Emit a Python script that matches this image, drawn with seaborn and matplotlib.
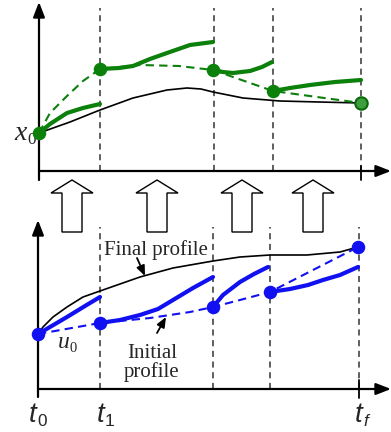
import numpy as np
import pandas as pd
import matplotlib
matplotlib.use("Agg")
import matplotlib.pyplot as plt
import matplotlib.transforms as mtrans
import seaborn as sns
from matplotlib.patches import Polygon

# ---------------- data (schematic units: time offset, value) ----------------
# Top panel: state trajectories x(t)
top_grid_t = [0, 61, 175, 234, 322]          # t0, t1, t2, t3, tf
top_black_t = [0, 31, 61, 94, 128, 148, 162, 174, 204, 241, 280, 322]
top_black_y = [38, 49, 61, 73, 81, 83, 82, 79, 73, 70, 69, 68]
top_dash_t = [0, 11, 28, 44, 61, 101, 140, 174, 234, 322]
top_dash_y = [38, 58, 75, 90, 102, 106, 105, 101, 80, 68]
top_seg1_t = [0, 11, 28, 44, 61]
top_seg1_y = [38, 47, 58, 63, 67]
top_seg2_t = [61, 80, 94, 111, 128, 151, 174]
top_seg2_y = [102, 103, 105, 112, 118, 126, 129]
top_seg3_t = [174, 184, 194, 211, 223, 233]
top_seg3_y = [101, 99, 98, 100, 104, 109]
top_seg4_t = [234, 251, 271, 296, 322]
top_seg4_y = [80, 83, 86, 89, 91]
top_node_t = [0, 61, 174, 234, 322]
top_node_y = [38, 102, 101, 80, 68]

# Bottom panel: control profiles u(t)
bot_grid_t = [0, 62, 175, 232, 321]
bot_black_t = [0, 5, 15, 29, 45, 62, 102, 135, 175, 202, 232, 269, 302, 320]
bot_black_y = [55, 62, 72, 82, 92, 98, 112, 121, 128, 132, 134, 134, 137, 142]
bot_dash_t = [0, 62, 112, 152, 175, 202, 232, 320]
bot_dash_y = [55, 66, 71, 77, 82, 89, 97, 142]
bot_seg1_t = [0, 12, 29, 47, 62]
bot_seg1_y = [55, 62, 72, 83, 92]
bot_seg2_t = [62, 82, 102, 120, 135, 155, 175]
bot_seg2_y = [66, 69, 74, 80, 89, 101, 112]
bot_seg3_t = [175, 185, 202, 216, 230]
bot_seg3_y = [82, 94, 107, 115, 122]
bot_seg4_t = [232, 252, 270, 285, 302, 320]
bot_seg4_y = [97, 100, 104, 109, 114, 122]
bot_node_t = [0, 62, 175, 232, 320]
bot_node_y = [55, 66, 82, 97, 142]

tick_main = ["t", "t", "t"]
tick_sub = ["0", "1", "f"]
tick_label_t = [-5, 63, 321]
arrow_centers = [72, 157, 242, 313]

# ---------------- style ----------------
sns.set_style("white")
plt.rcParams["font.family"] = ["Liberation Serif", "DejaVu Serif"]

GREEN = "#0b800b"
BLUE = "#1010f0"

W, H = 391, 432
fig = plt.figure(figsize=(W / 100, H / 100), dpi=100)


def px_axes(left, right, top, bottom, **kw):
    return fig.add_axes([left / W, 1 - bottom / H, (right - left) / W, (bottom - top) / H], **kw)


def shift(ax, dx, dy):
    return ax.transData + mtrans.ScaledTranslation(dx / 100, dy / 100, fig.dpi_scale_trans)


def line(ax, t, y, color, lw, ls="-", z=3):
    sns.lineplot(x=t, y=y, ax=ax, color=color, linewidth=lw, linestyle=ls,
                 estimator=None, sort=False, legend=False, zorder=z,
                 clip_on=False, solid_capstyle="round")


def axis_arrows(ax, xmax, ymax, ybelow):
    ap = dict(arrowstyle="-|>,head_length=0.9,head_width=0.35", color="k",
              lw=1.6, shrinkA=0, shrinkB=0)
    ax.annotate("", xy=(0, ymax), xytext=(0, ybelow), arrowprops=ap, annotation_clip=False)
    ax.annotate("", xy=(xmax, 0), xytext=(0, 0), arrowprops=ap, annotation_clip=False)


def sub_label(ax, x, y, main, sub, size, family, main_style, sub_style, sub_dx, sub_dy,
              ha="center"):
    ax.text(x, y, main, fontsize=size, family=family, style=main_style,
            ha=ha, va="baseline")
    ax.text(x, y, sub, fontsize=size * 0.62, family=family, style=sub_style,
            ha="left", va="baseline", transform=shift(ax, sub_dx, sub_dy))


# ---------------- top panel ----------------
ax1 = px_axes(39, 391, 0, 171)
ax1.set_xlim(0, 352)
ax1.set_ylim(0, 171)
ax1.axis("off")
for t in top_grid_t[1:]:
    ax1.plot([t, t], [0, 163], color="#333333", lw=1.1, ls=(0, (4, 3)), zorder=1)
ax1.plot([top_grid_t[-1]] * 2, [-9, 5], color="k", lw=1.3, zorder=2, clip_on=False)
axis_arrows(ax1, 352, 169, -9)

line(ax1, top_black_t, top_black_y, "black", 1.2)
line(ax1, top_dash_t, top_dash_y, GREEN, 1.5, ls=(0, (4, 2.5)))
for tt, yy in [(top_seg1_t, top_seg1_y), (top_seg2_t, top_seg2_y),
               (top_seg3_t, top_seg3_y), (top_seg4_t, top_seg4_y)]:
    line(ax1, tt, yy, GREEN, 3.0, z=4)
sns.scatterplot(x=top_node_t[:-1], y=top_node_y[:-1], ax=ax1, color=GREEN, s=95,
                edgecolor=GREEN, linewidth=0, zorder=6, clip_on=False, legend=False)
sns.scatterplot(x=top_node_t[-1:], y=top_node_y[-1:], ax=ax1, color="#3f9f3f", s=80,
                edgecolor="#0a6a0a", linewidth=1.5, zorder=6, clip_on=False, legend=False)
sub_label(ax1, -25, 31, "x", "0", 20, "Liberation Serif", "italic", "normal", 13, -4,
          ha="left")

# ---------------- bottom panel ----------------
ax2 = px_axes(38, 391, 220, 389)
ax2.set_xlim(0, 353)
ax2.set_ylim(0, 169)
ax2.axis("off")
for t in bot_grid_t[1:]:
    ax2.plot([t, t], [0, 162], color="#333333", lw=1.1, ls=(0, (4, 3)), zorder=1)
ax2.plot([bot_grid_t[-1]] * 2, [-9, 9], color="k", lw=1.3, zorder=2, clip_on=False)
axis_arrows(ax2, 353, 169, -8)

line(ax2, bot_black_t, bot_black_y, "black", 1.2)
line(ax2, bot_dash_t, bot_dash_y, BLUE, 1.5, ls=(0, (4, 2.5)))
for tt, yy in [(bot_seg1_t, bot_seg1_y), (bot_seg2_t, bot_seg2_y),
               (bot_seg3_t, bot_seg3_y), (bot_seg4_t, bot_seg4_y)]:
    line(ax2, tt, yy, BLUE, 3.0, z=4)
sns.scatterplot(x=bot_node_t, y=bot_node_y, ax=ax2, color=BLUE, s=95,
                edgecolor=BLUE, linewidth=0, zorder=6, clip_on=False, legend=False)

for m, s, t in zip(tick_main, tick_sub, tick_label_t):
    sub_label(ax2, t, -33, m, s, 20, "Liberation Sans", "italic",
              "italic" if s == "f" else "normal", 4, -4)

sub_label(ax2, 20, 41, "u", "0", 17, "Liberation Serif", "italic", "normal", 11, -4,
          ha="left")
ax2.text(66, 134, "Final profile", fontsize=15, ha="left", va="baseline")
ax2.annotate("", xy=(107, 113), xytext=(99, 131),
             arrowprops=dict(arrowstyle="-|>,head_length=0.6,head_width=0.25", color="k",
                             lw=1.3, shrinkA=0, shrinkB=0))
ax2.text(114, 26, "Initial\nprofile", fontsize=15, ha="center", va="center",
         linespacing=0.92)
ax2.annotate("", xy=(128, 72), xytext=(119, 56),
             arrowprops=dict(arrowstyle="-|>,head_length=0.6,head_width=0.25", color="k",
                             lw=1.3, shrinkA=0, shrinkB=0))

# ---------------- hollow block arrows between panels ----------------
ax0 = fig.add_axes([0, 0, 1, 1], zorder=-1)
ax0.set_xlim(0, W)
ax0.set_ylim(H, 0)
ax0.axis("off")
for c in arrow_centers:
    pts = [(c - 10, 232), (c + 10, 232), (c + 10, 193), (c + 21, 193), (c, 180),
           (c - 21, 193), (c - 10, 193)]
    ax0.add_patch(Polygon(pts, closed=True, facecolor="white", edgecolor="black", lw=1.0))

fig.savefig("out.png", dpi=100)
